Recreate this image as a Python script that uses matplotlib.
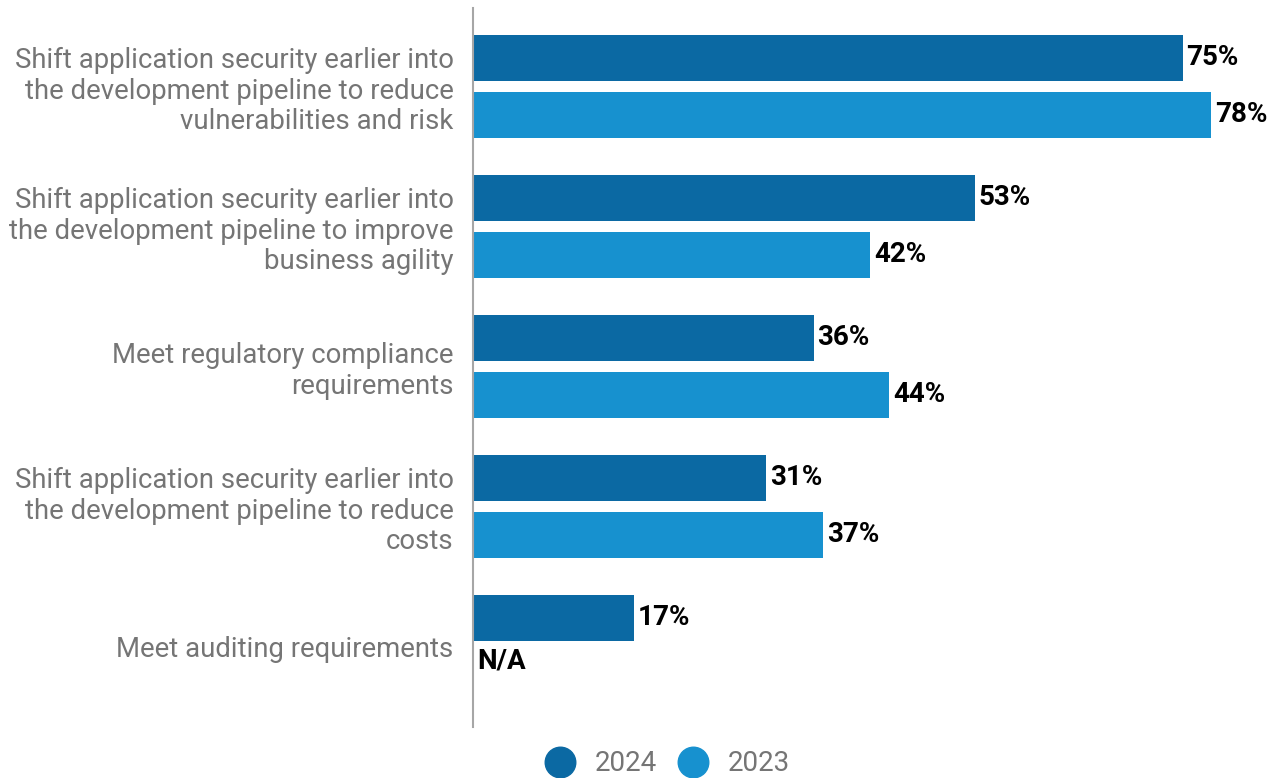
import matplotlib.pyplot as plt
from matplotlib.lines import Line2D

plt.rcParams['font.family'] = ['Roboto', 'DejaVu Sans']

categories = [
    "Shift application security earlier into\nthe development pipeline to reduce\nvulnerabilities and risk",
    "Shift application security earlier into\nthe development pipeline to improve\nbusiness agility",
    "Meet regulatory compliance\nrequirements",
    "Shift application security earlier into\nthe development pipeline to reduce\ncosts",
    "Meet auditing requirements",
]
vals_2024 = [75, 53, 36, 31, 17]
vals_2023 = [78, 42, 44, 37, None]  # no 2023 figure for auditing

c2024 = '#0b69a3'
c2023 = '#1791cf'
grey = '#757575'

fig = plt.figure(figsize=(12.68, 7.78), dpi=100)
ax = fig.add_axes([0.373, 0.0656, 0.627, 0.9242])

off = 0.2036
h = 0.3286
for i, (a, b) in enumerate(zip(vals_2024, vals_2023)):
    ax.barh(i - off, a, height=h, color=c2024)
    ax.text(a + 0.4, i - off, f"{a}%", va='center', ha='left',
            fontsize=20, fontweight='bold', color='black')
    if b is None:
        ax.text(0.5, i + off - 0.1, "N/A", va='center', ha='left',
                fontsize=20, fontweight='bold', color='black')
    else:
        ax.barh(i + off, b, height=h, color=c2023)
        ax.text(b + 0.4, i + off, f"{b}%", va='center', ha='left',
                fontsize=20, fontweight='bold', color='black')

ax.set_xlim(0, 84)
ax.set_ylim(4.575, -0.561)
ax.set_yticks(range(len(categories)))
ax.set_yticklabels(categories, fontsize=19.8, color=grey, linespacing=1.17)
ax.tick_params(axis='y', length=0, pad=14)
ax.set_xticks([])
for s in ['top', 'right', 'bottom']:
    ax.spines[s].set_visible(False)
ax.spines['left'].set_color('#a6a6a6')
ax.spines['left'].set_linewidth(1.5)

handles = [Line2D([], [], marker='o', ls='', markersize=22, color=c2024),
           Line2D([], [], marker='o', ls='', markersize=22, color=c2023)]
fig.legend(handles, ['2024', '2023'], loc='center', bbox_to_anchor=(0.5213, 0.018),
           ncol=2, frameon=False, fontsize=20, labelcolor=grey,
           handletextpad=0.25, columnspacing=0.3)

fig.savefig('out.png', dpi=100)
